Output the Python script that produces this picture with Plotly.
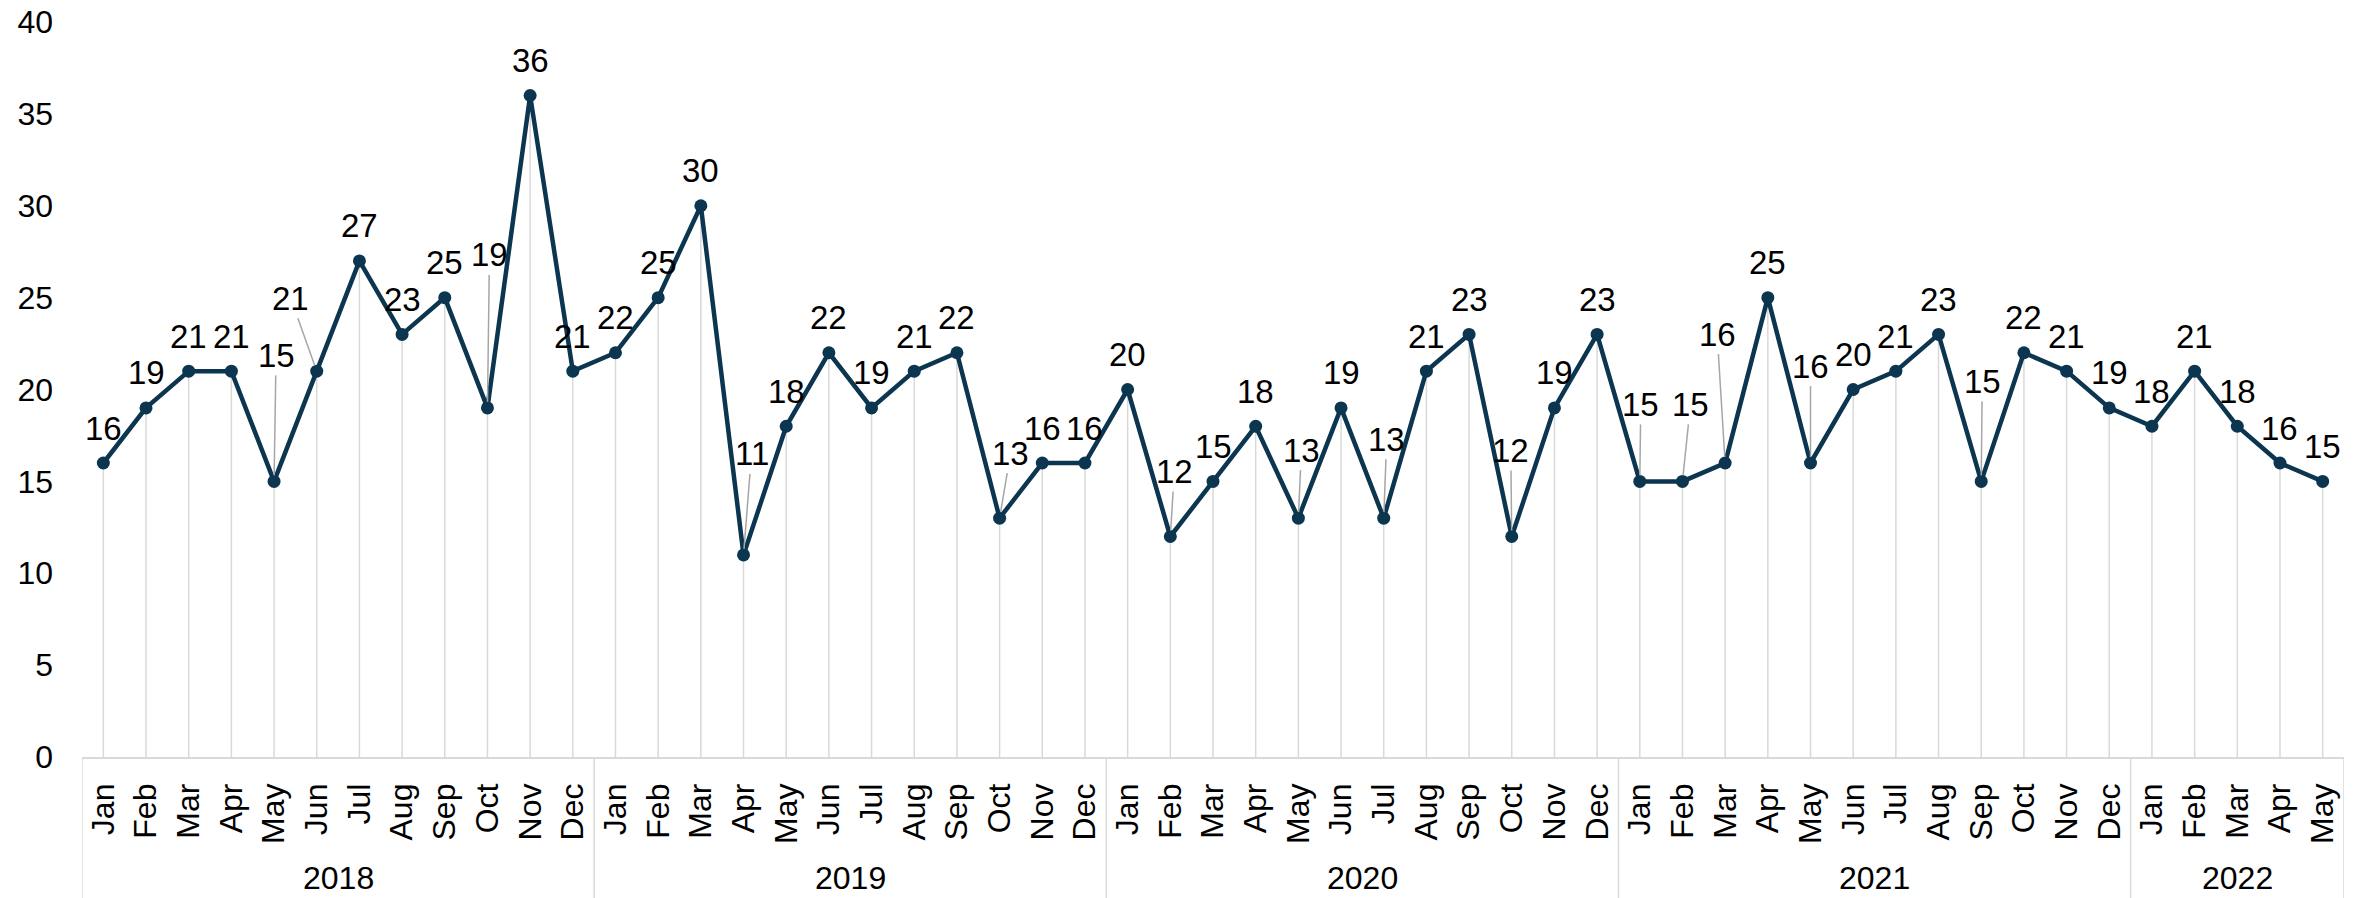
import plotly.graph_objects as go

# ---- data ----
years = ['2018', '2019', '2020', '2021', '2022']
month_names = ['Jan', 'Feb', 'Mar', 'Apr', 'May', 'Jun',
               'Jul', 'Aug', 'Sep', 'Oct', 'Nov', 'Dec']
v2018 = [16, 19, 21, 21, 15, 21, 27, 23, 25, 19, 36, 21]
v2019 = [22, 25, 30, 11, 18, 22, 19, 21, 22, 13, 16, 16]
v2020 = [20, 12, 15, 18, 13, 19, 13, 21, 23, 12, 19, 23]
v2021 = [15, 15, 16, 25, 16, 20, 21, 23, 15, 22, 21, 19]
v2022 = [18, 21, 18, 16, 15]
y_ticks = [0, 5, 10, 15, 20, 25, 30, 35, 40]

series_by_year = [v2018, v2019, v2020, v2021, v2022]

x_year, x_month, values = [], [], []
for yr, vals in zip(years, series_by_year):
    for m, v in zip(month_names, vals):
        x_year.append(yr)
        x_month.append(m)
        values.append(v)
x_pos = list(range(len(values)))

# ---- label placement (style only) ----
# (year, month): pixel offset of label centre from the point, with a leader line
leader_offsets = {
    ('2018', 'May'): (2, -126),
    ('2018', 'Jun'): (-26, -73),
    ('2018', 'Oct'): (2, -153),
    ('2019', 'Apr'): (8, -101),
    ('2019', 'Oct'): (11, -65),
    ('2020', 'Feb'): (4, -65),
    ('2020', 'May'): (3, -68),
    ('2020', 'Jul'): (3, -79),
    ('2020', 'Oct'): (-1, -86),
    ('2021', 'Jan'): (1, -77),
    ('2021', 'Feb'): (8, -77),
    ('2021', 'Mar'): (-8, -129),
    ('2021', 'May'): (0, -97),
    ('2021', 'Sep'): (1, -100),
}

LINE = '#0c3550'
GRID = '#d9d9d9'
FONT = 'Liberation Sans, Arial, sans-serif'
TXT = '#000000'
TICK_SIZE = 32
LABEL_SIZE = 33

W, H = 2362, 898
M = dict(l=82, r=18, t=22, b=141)
plot_h = H - M['t'] - M['b']

fig = go.Figure()

# drop lines from each point to the axis
fig.add_trace(go.Scatter(
    x=x_pos, y=values,
    mode='markers',
    marker=dict(size=1, opacity=0),
    error_y=dict(type='data', symmetric=False,
                 array=[0] * len(values), arrayminus=values,
                 color=GRID, thickness=1.5, width=0),
    hoverinfo='skip', showlegend=False,
))

# main line
fig.add_trace(go.Scatter(
    x=x_pos, y=values,
    mode='lines+markers',
    line=dict(color=LINE, width=4.5),
    marker=dict(color=LINE, size=13),
    customdata=[[a, b] for a, b in zip(x_year, x_month)],
    hovertemplate='%{customdata[1]} %{customdata[0]}: %{y}<extra></extra>',
    showlegend=False,
))

annotations = []
for i, (yr, m, v) in enumerate(zip(x_year, x_month, values)):
    if (yr, m) in leader_offsets:
        dx, dy = leader_offsets[(yr, m)]
        annotations.append(dict(
            x=i, y=v, xref='x', yref='y', text=str(v),
            showarrow=True, arrowhead=0, arrowwidth=1.5, arrowcolor='#a6a6a6',
            ax=dx, ay=dy, standoff=6,
            font=dict(family=FONT, size=LABEL_SIZE, color=TXT),
        ))
    else:
        annotations.append(dict(
            x=i, y=v, xref='x', yref='y', text=str(v),
            showarrow=False, yshift=35,
            font=dict(family=FONT, size=LABEL_SIZE, color=TXT),
        ))

# year group labels and dividers (second category level)
shapes = []
start = 0
bounds = [-0.5]
for yr, vals in zip(years, series_by_year):
    end = start + len(vals)
    annotations.append(dict(
        x=(start + end - 1) / 2, y=-121 / plot_h, xref='x', yref='paper',
        text=yr, showarrow=False, xanchor='center', yanchor='middle',
        font=dict(family=FONT, size=TICK_SIZE, color=TXT),
    ))
    bounds.append(end - 0.5)
    start = end
for b in bounds:
    shapes.append(dict(
        type='line', xref='x', yref='paper', x0=b, x1=b,
        y0=0, y1=-(M['b'] + 2) / plot_h,
        line=dict(color=GRID, width=1.5), layer='below',
    ))

fig.update_layout(
    width=W, height=H,
    margin=M,
    paper_bgcolor='white', plot_bgcolor='white',
    font=dict(family=FONT, size=TICK_SIZE, color=TXT),
    annotations=annotations,
    shapes=shapes,
    xaxis=dict(
        range=[-0.5, len(values) - 0.5],
        tickmode='array', tickvals=x_pos, ticktext=x_month,
        automargin=False,
        tickangle=-90,
        showgrid=False, zeroline=False,
        showline=True, linecolor=GRID, linewidth=1.5,
        ticks='', ticklabelstandoff=12,
        tickfont=dict(family=FONT, size=TICK_SIZE, color=TXT),
    ),
    yaxis=dict(
        range=[0, 40],
        automargin=False,
        tickvals=y_ticks,
        showgrid=False, zeroline=False, showline=False,
        ticks='', ticklabelstandoff=28,
        tickfont=dict(family=FONT, size=TICK_SIZE, color=TXT),
    ),
)

fig.write_html('out.html',
               config={'displayModeBar': False},
               post_script="document.body.style.margin='0';"
                           "document.body.style.overflow='hidden';")
